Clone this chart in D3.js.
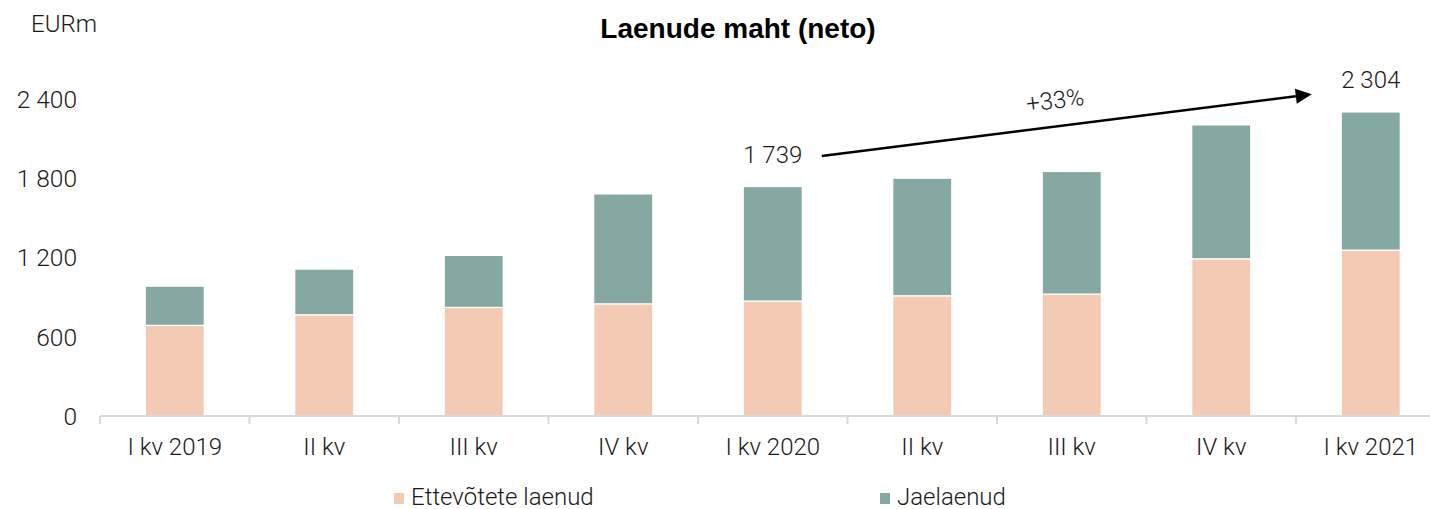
<!DOCTYPE html>
<html>
<head>
<meta charset="utf-8">
<script src="https://cdn.jsdelivr.net/npm/d3@7"></script>
<style>
  html, body { margin: 0; padding: 0; background: #fff; }
  svg { display: block; }
  text { font-family: Roboto, "Liberation Sans", sans-serif; }
  text.title { font-family: "Liberation Sans", Arial, sans-serif; }
</style>
</head>
<body>
<svg id="chart" width="1430" height="509"></svg>
<script>
// ---- data ----
const categories = ["I kv 2019", "II kv", "III kv", "IV kv", "I kv 2020", "II kv", "III kv", "IV kv", "I kv 2021"];
const corporateLoans = [687, 767, 823, 850, 871, 911, 924, 1191, 1257];   // Ettevõtete laenud
const retailLoans    = [297, 346, 394, 833, 868, 891, 929, 1015, 1047];   // Jaelaenud
const yTicks = [0, 600, 1200, 1800, 2400];
const seriesNames = ["Ettevõtete laenud", "Jaelaenud"];
const annotations = { startIndex: 4, startValue: 1739, endIndex: 8, endValue: 2304, growth: "+33%" };

// ---- layout ----
const svg = d3.select("#chart");
const colors = ["#F3CAB4", "#85A8A3"];
const fmt = v => d3.format(",")(v).replace(/,/g, " ");
const FS = 24;

const x = d3.scaleBand().domain(d3.range(categories.length)).range([100, 1445.5]).paddingInner(0.605).paddingOuter(0.3025);
const y = d3.scaleLinear().domain([0, 2400]).range([416, 99.3]);
const xc = i => x(i) + x.bandwidth() / 2;

// stacked data
const stackData = categories.map((c, i) => ({ i, corp: corporateLoans[i], retail: retailLoans[i] }));
const stack = d3.stack().keys(["corp", "retail"]);
const layers = stack(stackData);

svg.append("g").selectAll("g").data(layers).join("g")
  .attr("fill", (d, k) => colors[k])
  .selectAll("rect").data(d => d).join("rect")
  .attr("x", d => x(d.data.i))
  .attr("width", x.bandwidth())
  .attr("y", d => y(d[1]))
  .attr("height", d => y(d[0]) - y(d[1]))
  .attr("stroke", "#fff")
  .attr("stroke-width", 1.2);

// x axis line & ticks (category boundaries)
const axisG = svg.append("g");
axisG.append("line").attr("x1", 100).attr("x2", 1430).attr("y1", y(0)).attr("y2", y(0))
  .attr("stroke", "#d9d9d9").attr("stroke-width", 2);
axisG.selectAll("line.tk").data(d3.range(categories.length)).join("line").attr("class", "tk")
  .attr("x1", i => x(i) - x.step() * x.paddingOuter()).attr("x2", i => x(i) - x.step() * x.paddingOuter())
  .attr("y1", y(0)).attr("y2", y(0) + 8)
  .attr("stroke", "#d9d9d9").attr("stroke-width", 2);

axisG.selectAll("text.xl").data(categories).join("text").attr("class", "xl")
  .attr("x", (d, i) => xc(i)).attr("y", 455)
  .attr("text-anchor", "middle").attr("font-size", FS).attr("font-weight", 300).attr("fill", "#1a1a1a")
  .text(d => d);

// y axis labels
svg.append("g").selectAll("text").data(yTicks).join("text")
  .attr("x", 77).attr("y", d => y(d)).attr("dy", "0.36em")
  .attr("text-anchor", "end").attr("font-size", 24.5).attr("font-weight", 300).attr("fill", "#1a1a1a")
  .text(d => fmt(d));

svg.append("text").attr("x", 31).attr("y", 32).attr("font-size", FS).attr("font-weight", 300).attr("fill", "#1a1a1a").text("EURm");

// title
svg.append("text").attr("class", "title").attr("x", 738).attr("y", 38).attr("text-anchor", "middle")
  .attr("font-size", 28).attr("font-weight", 700).attr("fill", "#000")
  .text("Laenude maht (neto)");

// value labels
[[annotations.startIndex, annotations.startValue], [annotations.endIndex, annotations.endValue]].forEach(([i, v]) => {
  svg.append("text").attr("x", xc(i)).attr("y", y(v) - 24).attr("text-anchor", "middle")
    .attr("font-size", FS).attr("font-weight", 300).attr("fill", "#1a1a1a").text(fmt(v));
});

// arrow
const x0 = xc(annotations.startIndex) + 49, y0 = y(annotations.startValue) - 30.6;
const x1 = xc(annotations.endIndex) - 59, y1 = y(annotations.endValue) - 17.7;
const ang = Math.atan2(y1 - y0, x1 - x0);
const headLen = 16, headHalf = 7.5;
const bx = x1 - headLen * Math.cos(ang), by = y1 - headLen * Math.sin(ang);
svg.append("line").attr("x1", x0).attr("y1", y0).attr("x2", bx).attr("y2", by)
  .attr("stroke", "#000").attr("stroke-width", 2.6);
svg.append("path")
  .attr("d", `M${x1},${y1} L${bx - headHalf * Math.sin(ang)},${by + headHalf * Math.cos(ang)} L${bx + headHalf * Math.sin(ang)},${by - headHalf * Math.cos(ang)} Z`)
  .attr("fill", "#000");

const tx = 1056, ty = y0 + (tx - x0) * Math.tan(ang) - 18;
svg.append("text").attr("transform", `translate(${tx},${ty}) rotate(${ang * 180 / Math.PI})`)
  .attr("text-anchor", "middle").attr("font-size", FS).attr("font-weight", 300).attr("fill", "#1a1a1a")
  .text(annotations.growth);

// legend
const legendX = [394, 880];
const lg = svg.append("g").selectAll("g").data(seriesNames).join("g")
  .attr("transform", (d, i) => `translate(${legendX[i]},0)`);
lg.append("rect").attr("x", 0).attr("y", 493).attr("width", 10).attr("height", 11).attr("fill", (d, i) => colors[i]);
lg.append("text").attr("x", 17).attr("y", 505).attr("font-size", FS).attr("font-weight", 300).attr("fill", "#1a1a1a").text(d => d);
</script>
</body>
</html>
